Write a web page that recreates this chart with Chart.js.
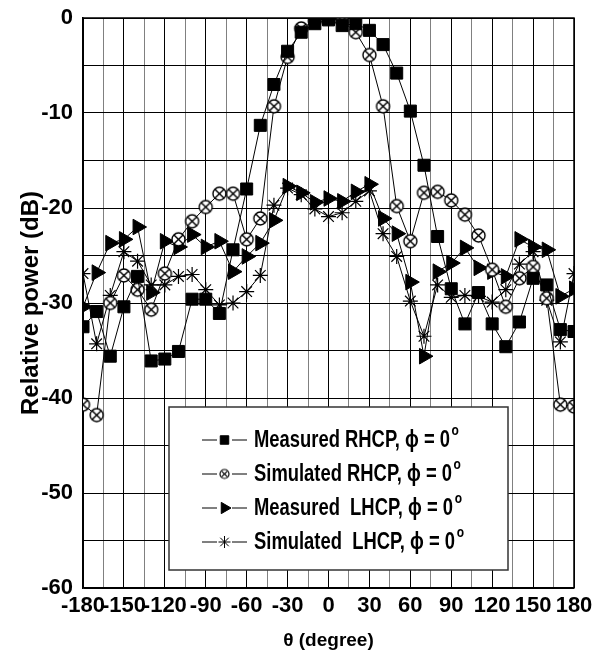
<!DOCTYPE html>
<html>
<head>
<meta charset="utf-8">
<script src="https://cdn.jsdelivr.net/npm/chart.js@4.4.1/dist/chart.umd.min.js"></script>
<style>
  html, body { margin: 0; padding: 0; background: #fff; }
  #wrap { width: 602px; height: 664px; }
</style>
</head>
<body>
<div id="wrap"><canvas id="chart" width="602" height="664"></canvas></div>
<script>
// angles (deg) where the pattern was sampled
const theta = [-180, -170, -160, -150, -140, -130, -120, -110, -100, -90, -80, -70, -60, -50, -40, -30, -20, -10,
  0, 10, 20, 30, 40, 50, 60, 70, 80, 90, 100, 110, 120, 130, 140, 150, 160, 170, 180];

const measuredRhcp = [-32.5, -30.9, -35.6, -30.4, -27.2, -36.1, -35.9, -35.1, -29.6, -29.6, -31.1, -24.4, -18.0, -11.3, -7.0, -3.5, -1.5, -0.6,
  -0.2, -0.8, -0.6, -1.3, -2.8, -5.8, -9.8, -15.5, -23.0, -28.5, -32.2, -28.9, -32.2, -34.6, -32.0, -27.4, -28.1, -32.8, -33.0];
const simulatedRhcp = [-40.7, -41.8, -30.0, -27.1, -28.6, -30.7, -26.9, -23.3, -21.4, -19.9, -18.5, -18.5, -23.3, -21.1, -9.3, -4.1, -1.1, -0.3,
  0, -0.3, -1.5, -3.9, -9.3, -19.8, -23.5, -18.4, -18.3, -19.2, -20.7, -22.9, -26.5, -30.4, -27.4, -26.2, -29.5, -40.7, -40.9];
const measuredLhcp = [-30.4, -26.8, -23.7, -23.3, -22.0, -28.9, -23.5, -24.1, -22.8, -24.1, -23.5, -26.7, -25.1, -23.7, -21.3, -17.7, -18.4, -19.4,
  -19.0, -19.3, -18.3, -17.5, -21.1, -22.7, -27.8, -35.6, -26.7, -25.8, -24.2, -26.3, -26.7, -27.2, -23.3, -24.1, -24.4, -29.3, -28.5];
const simulatedLhcp = [-26.9, -34.3, -29.2, -24.6, -25.6, -28.1, -28.1, -27.2, -27.0, -28.6, -30.2, -30.0, -28.8, -27.1, -19.7, -17.9, -18.6, -20.1,
  -20.9, -20.5, -19.3, -18.2, -22.7, -25.1, -29.8, -33.5, -28.1, -29.4, -29.2, -29.3, -29.9, -28.6, -25.9, -24.6, -29.7, -34.1, -26.9];

const xGridTicks = [-180, -165, -150, -135, -120, -105, -90, -75, -60, -45, -30, -15, 0, 15, 30, 45, 60, 75, 90, 105, 120, 135, 150, 165, 180];
const seriesNames = ['Measured RHCP, ', 'Simulated RHCP, ', 'Measured  LHCP, ', 'Simulated  LHCP, '];

const FONT = "'Liberation Sans', Arial, sans-serif";

// circle with an x inside, as a point image
function crossCircle(r, lw) {
  const size = Math.ceil(r * 2 + 4);
  const cv = document.createElement('canvas');
  cv.width = size; cv.height = size;
  const c = cv.getContext('2d');
  const m = size / 2;
  c.fillStyle = '#fff';
  c.strokeStyle = '#000';
  c.lineWidth = lw;
  c.beginPath(); c.arc(m, m, r, 0, Math.PI * 2); c.fill(); c.stroke();
  const d = r * Math.SQRT1_2;
  c.beginPath();
  c.moveTo(m - d, m - d); c.lineTo(m + d, m + d);
  c.moveTo(m - d, m + d); c.lineTo(m + d, m - d);
  c.stroke();
  return cv;
}
const circleBig = crossCircle(6.5, 1.4);
const circleSmall = crossCircle(4.5, 1.2);

const pts = arr => theta.map((t, i) => ({ x: t, y: arr[i] }));

const markers = [
  { pointStyle: 'rect', radius: 8.5, rotation: 0, fill: '#000' },
  { pointStyle: circleBig, radius: 7, rotation: 0, fill: '#fff' },
  { pointStyle: 'triangle', radius: 9, rotation: 90, fill: '#000' },
  { pointStyle: 'star', radius: 7.5, rotation: 0, fill: '#000' }
];
const legendMarkers = [
  { pointStyle: 'rect', radius: 6, rotation: 0, borderWidth: 1 },
  { pointStyle: circleSmall, radius: 5, rotation: 0, borderWidth: 1 },
  { pointStyle: 'triangle', radius: 6.5, rotation: 90, borderWidth: 1 },
  { pointStyle: 'star', radius: 6, rotation: 0, borderWidth: 1 }
];

const seriesData = [measuredRhcp, simulatedRhcp, measuredLhcp, simulatedLhcp];

const datasets = seriesData.map((arr, i) => ({
  label: seriesNames[i],
  data: pts(arr),
  borderColor: '#000',
  borderWidth: 1,
  backgroundColor: markers[i].fill,
  pointStyle: markers[i].pointStyle,
  pointRadius: markers[i].radius,
  pointRotation: markers[i].rotation,
  pointBackgroundColor: markers[i].fill,
  pointBorderColor: '#000',
  pointBorderWidth: i === 3 ? 1.2 : 1,
  tension: 0
}));

const framePlugin = {
  id: 'frame',
  afterDraw(chart) {
    const { ctx, chartArea: a } = chart;
    ctx.save();
    ctx.strokeStyle = '#000';
    ctx.lineWidth = 1.5;
    ctx.beginPath();
    ctx.moveTo(a.left, a.top); ctx.lineTo(a.right, a.top); ctx.lineTo(a.right, a.bottom);
    ctx.stroke();
    ctx.restore();
  }
};

const legendPlugin = {
  id: 'boxLegend',
  afterDraw(chart) {
    const ctx = chart.ctx;
    ctx.save();
    ctx.fillStyle = '#fff';
    ctx.fillRect(169, 407, 339, 163);
    ctx.strokeStyle = '#333';
    ctx.lineWidth = 1.5;
    ctx.strokeRect(169, 407, 339, 163);

    const rows = [440, 474, 508, 542];
    rows.forEach((y, i) => {
      ctx.strokeStyle = '#000';
      ctx.lineWidth = 1;
      ctx.beginPath();
      ctx.moveTo(202, y); ctx.lineTo(217, y);
      ctx.moveTo(232, y); ctx.lineTo(247, y);
      ctx.stroke();
      ctx.fillStyle = '#000';
      Chart.helpers.drawPoint(ctx, legendMarkers[i], 224.5, y);

      // condensed bold text
      ctx.save();
      ctx.translate(254, y);
      ctx.scale(0.8, 1);
      ctx.fillStyle = '#000';
      ctx.textBaseline = 'middle';
      ctx.font = 'bold 23px ' + FONT;
      const txt = seriesNames[i] + '\u03d5 = 0';
      ctx.fillText(txt, 0, 1);
      const w = ctx.measureText(txt).width;
      ctx.font = 'bold 15px ' + FONT;
      ctx.fillText('o', w + 2, -9);
      ctx.restore();
    });
    ctx.restore();
  }
};

new Chart(document.getElementById('chart'), {
  type: 'line',
  data: { datasets },
  plugins: [framePlugin, legendPlugin],
  options: {
    responsive: false,
    animation: false,
    devicePixelRatio: 1,
    layout: { padding: { top: 18, right: 28, left: 0, bottom: 0 } },
    plugins: { legend: { display: false }, tooltip: { enabled: false } },
    scales: {
      x: {
        type: 'linear',
        min: -180,
        max: 180,
        afterBuildTicks: scale => { scale.ticks = xGridTicks.map(v => ({ value: v })); },
        afterFit: scale => { scale.height = 76; scale.paddingLeft = 0; scale.paddingRight = 0; },
        ticks: {
          autoSkip: false,
          maxRotation: 0,
          padding: 5,
          color: '#000',
          font: { family: FONT, size: 22, weight: 'bold' },
          callback: v => (v % 30 === 0 ? String(v) : '')
        },
        grid: {
          color: c => (c.tick && c.tick.value % 30 !== 0 ? '#808080' : '#000'),
          lineWidth: 1,
          drawTicks: false
        },
        border: { color: '#000', width: 1.5 },
        title: {
          display: true,
          text: '\u03b8 (degree)',
          color: '#000',
          font: { family: FONT, size: 19, weight: 'bold' },
          padding: { top: 4, bottom: 12 }
        }
      },
      y: {
        min: -60,
        max: 0,
        afterFit: scale => { scale.width = 83; scale.paddingTop = 0; scale.paddingBottom = 0; },
        ticks: {
          stepSize: 5,
          padding: 10,
          color: '#000',
          font: { family: FONT, size: 22, weight: 'bold' },
          callback: v => (v % 10 === 0 ? String(v) : '')
        },
        grid: { color: '#000', lineWidth: 1, drawTicks: false },
        border: { color: '#000', width: 1.5 },
        title: {
          display: true,
          text: 'Relative power (dB)',
          color: '#000',
          font: { family: FONT, size: 24, weight: 'bold' },
          padding: { top: 17, bottom: 0 }
        }
      }
    }
  }
});
</script>
</body>
</html>
